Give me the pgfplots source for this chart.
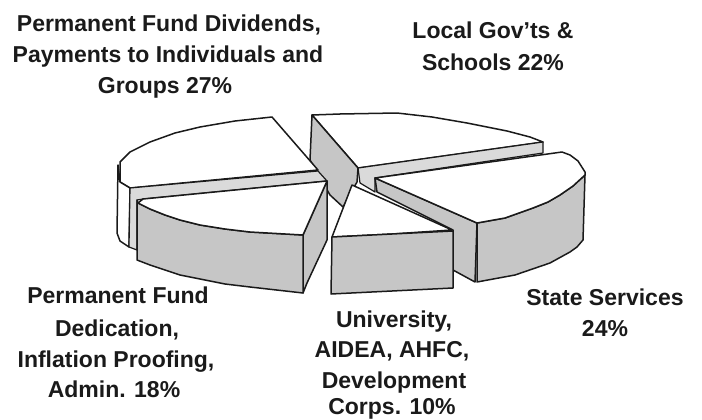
\documentclass[border=0pt]{standalone}
\usepackage{pgfplots}
\usepackage{fontspec}
\setmainfont{Liberation Sans}
\pgfplotsset{compat=1.18}
\definecolor{wallgray}{HTML}{C6C6C6}
\definecolor{stripgray}{HTML}{DADADA}
\definecolor{ink}{HTML}{1A1A1A}
\newcommand{\lab}[3]{\node[font=\fontsize{23}{26}\selectfont\bfseries,text=ink,anchor=base,inner sep=0pt] at (axis cs:#1,#2) {#3};}
\begin{document}
\begin{tikzpicture}
\begin{axis}[
  width=702pt,height=420pt,scale only axis,
  xmin=0,xmax=702,ymin=0,ymax=420,y dir=reverse,
  axis lines=none,clip=false,
  every axis plot/.append style={draw=ink,line width=1.5pt,line join=round,mark=none}
]
\path (axis cs:0,0) rectangle (axis cs:702,420);
% Slice: Local Gov'ts -- top face
\addplot[fill=white] coordinates {(312,115)(340,114)(397,113)(432,117)(467,123)(507,131)(530,137)(543,142)(358,168)} -- cycle;
% Local Gov'ts -- cut wall strip
\addplot[fill=stripgray,line width=1.2pt] coordinates {(358,168)(543,142)(543,153)(375,178)(375,192)(360,183)} -- cycle;
% Local Gov'ts -- grey wall
\addplot[fill=wallgray] coordinates {(312,115)(358,168)(357,182)(343,207)(330,195)(310,160)} -- cycle;
% Permanent Fund Dividends -- top face
\addplot[fill=white] coordinates {(120,162)(125,157)(130,152)(140,147)(150,142)(175,133)(200,127)(235,121)(272,117)(318,170)(130,188)(120,182)} -- cycle;
% Dividends -- outer wall
\addplot[fill=white] coordinates {(118,165)(120,182)(130,188)(129,247)(120,241)(117,233)} -- cycle;
% Dividends -- cut wall strip
\addplot[fill=stripgray,line width=1.2pt] coordinates {(130,188)(318,171)(327,181)(143,199)(137,200)(137,250)(129,247)} -- cycle;
% Dedication -- right wall
\addplot[fill=wallgray] coordinates {(327,181)(327,240)(307,283)(303,293)(303,235)} -- cycle;
% Dedication -- outer wall
\addplot[fill=wallgray] coordinates {(137,200)(138,203)(150,209)(165,215)(180,220)(200,225)(225,229)(250,232)(303,235)(303,293)(250,287)(225,284)(200,279)(180,275)(165,270)(150,265)(137,260)} -- cycle;
% Dedication -- top face
\addplot[fill=white] coordinates {(143,199)(327,181)(303,235)(250,232)(225,229)(200,225)(180,220)(165,215)(150,209)(138,203)} -- cycle;
% State Services -- cut wall
\addplot[fill=wallgray] coordinates {(375,178)(477,223)(475,282)(453,270)(453,230)(377,192)} -- cycle;
% State Services -- outer wall
\addplot[fill=wallgray] coordinates {(477,223)(505,218)(533,208)(548,202)(560,195)(573,186)(585,175)(583,240)(577,247)(570,252)(550,263)(515,275)(477,282)} -- cycle;
% State Services -- top face
\addplot[fill=white] coordinates {(375,178)(562,152)(570,155)(578,161)(585,172)(585,175)(573,186)(560,195)(548,202)(533,208)(505,218)(477,223)} -- cycle;
% University -- top face
\addplot[fill=white] coordinates {(352,185)(452,230)(392,234)(332,237)} -- cycle;
% University -- front wall
\addplot[fill=wallgray] coordinates {(332,237)(392,234)(453,231)(453,288)(392,291)(331,294)} -- cycle;
% Labels
\lab{169}{32}{Permanent Fund Dividends,}
\lab{168}{63}{Payments to Individuals and}
\lab{165}{93}{Groups 27\%}
\lab{493}{39}{Local Gov{\char39}ts \&}
\lab{493}{71}{Schools 22\%}
\lab{605}{305}{State Services}
\lab{605}{336}{24\%}
\lab{394}{327}{University,}
\lab{392}{357}{AIDEA, AHFC,}
\lab{394}{388}{Development}
\lab{392}{414.5}{Corps. 10\%}
\lab{118}{303}{Permanent Fund}
\lab{117}{336}{Dedication,}
\lab{116}{367}{Inflation Proofing,}
\lab{114}{397}{Admin. 18\%}
\end{axis}
\end{tikzpicture}
\end{document}
